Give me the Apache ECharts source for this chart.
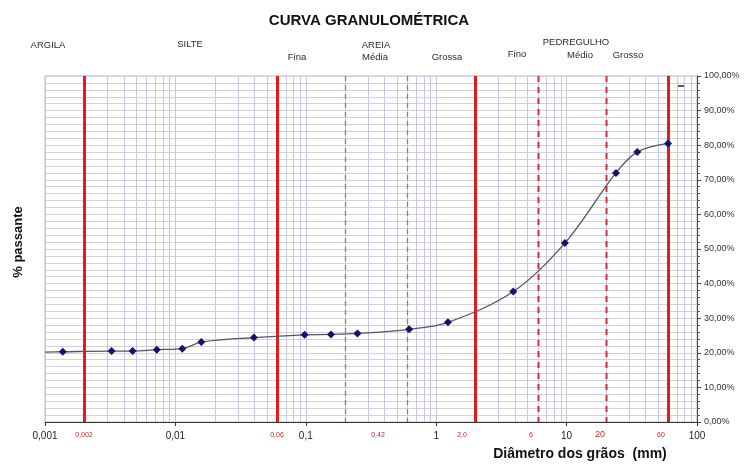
<!DOCTYPE html>
<html>
<head>
<meta charset="utf-8">
<script src="https://cdn.jsdelivr.net/npm/echarts@6/dist/echarts.min.js"></script>
<style>
  html, body { margin: 0; padding: 0; background: #ffffff; }
  #chart { width: 745px; height: 466px; }
</style>
</head>
<body>
<div id="chart"></div>
<script>
// Grain-size distribution: sieve / sedimentation diameters (mm) and % passing
const diameters = [0.001, 0.00137, 0.00324, 0.0047, 0.0072, 0.0113, 0.0158, 0.040, 0.098, 0.156, 0.249, 0.62, 1.23, 3.9, 9.7, 23.9, 34.8, 60];
const passing   = [20.2, 20.3, 20.5, 20.5, 20.9, 21.2, 23.1, 24.4, 25.2, 25.3, 25.6, 26.8, 28.8, 37.7, 51.7, 72.0, 78.0, 80.5];

// Soil class boundaries (mm): clay/silt, silt/sand, sand/gravel, gravel/cobbles
const mainLimits = [0.002, 0.06, 2.0, 60];
// Sub-class boundaries inside sand and gravel (mm)
const sandLimits = [0.2, 0.6];
const gravelLimits = [6, 20];

// Boundary captions under the axis
const limitCaptions = ['0,002', '0,06', '0,42', '2,0', '6', '20', '60'];

// Y axis tick values (%)
const yTicks = [0, 10, 20, 30, 40, 50, 60, 70, 80, 90, 100];

// Intermediate log-grid lines (2..9 per decade)
const minorGrid = [];
for (let e = -3; e <= 1; e++) {
  for (let k = 2; k <= 9; k++) minorGrid.push(+(k * Math.pow(10, e)).toPrecision(3));
}

const points = diameters.map((d, i) => {
  const item = { value: [d, passing[i]] };
  if (i === 0) item.symbolSize = 0;   // curve starts at the axis edge
  return item;
});

const fmtNum = v => String(+(+v).toPrecision(3)).replace('.', ',');

const chart = echarts.init(document.getElementById('chart'), null, { renderer: 'canvas' });

const labelFont = '"Liberation Sans", Arial, sans-serif';
const zoneText = (x, y, t) => ({
  type: 'text', x, y,
  style: { text: t, font: '9.5px ' + labelFont, fill: '#2a2a2a', textAlign: 'center', textVerticalAlign: 'middle' }
});

// vertical full-height rule at a given diameter, drawn through the axes
const ruleSeries = (values, style, z) => ({
  type: 'custom', silent: true, z,
  data: values.map(v => [v]),
  encode: { x: 0 },
  clip: true,
  renderItem: (params, api) => {
    const v = api.value(0);
    const top = api.coord([v, yTicks[yTicks.length - 1]]);
    const bot = api.coord([v, yTicks[0]]);
    return {
      type: 'line',
      shape: { x1: Math.round(top[0]) + 0.5, y1: top[1], x2: Math.round(bot[0]) + 0.5, y2: bot[1] },
      style: style
    };
  }
});

chart.setOption({
  animation: false,
  backgroundColor: '#ffffff',
  grid: { left: 45, right: 48, top: 76, bottom: 44, show: true, borderColor: '#b8b8b8', borderWidth: 1 },
  xAxis: {
    type: 'log', logBase: 10, min: 0.001, max: 100,
    axisLine: { show: true, onZero: false, lineStyle: { color: '#333', width: 1 } },
    axisTick: { show: true, length: 4, lineStyle: { color: '#333' } },
    axisLabel: { formatter: fmtNum, fontSize: 10, color: '#222', margin: 9, fontFamily: labelFont },
    splitLine: { show: true, lineStyle: { color: '#c6c6ea', width: 1 } }
  },
  yAxis: {
    type: 'value', min: yTicks[0], max: yTicks[yTicks.length - 1], interval: 10,
    position: 'right',
    axisLine: { show: true, lineStyle: { color: '#444', width: 1 } },
    axisTick: { show: true, length: 4, lineStyle: { color: '#444' } },
    minorTick: { show: true, splitNumber: 5, length: 3, lineStyle: { color: '#555' } },
    axisLabel: {
      formatter: v => v.toFixed(2).replace('.', ',') + '%',
      fontSize: 9, color: '#333', margin: 7, fontFamily: labelFont
    },
    splitLine: { show: true, lineStyle: { color: '#d2d2da', width: 1 } },
    minorSplitLine: { show: true, lineStyle: { color: '#d2d2da', width: 1 } }
  },
  series: [
    ruleSeries(minorGrid, { stroke: '#c6c6ea', lineWidth: 1 }, 1),
    ruleSeries(sandLimits, { stroke: '#c8607a', lineWidth: 1.3, lineDash: [5, 4] }, 2),
    ruleSeries(gravelLimits, { stroke: '#e02828', lineWidth: 2, lineDash: [6, 5] }, 2),
    ruleSeries(mainLimits, { stroke: '#e31b1b', lineWidth: 3 }, 3),
    {
      name: '% passante',
      type: 'line', z: 5,
      data: points,
      smooth: 0.35,
      symbol: 'diamond', symbolSize: 8,
      itemStyle: { color: '#12126e' },
      lineStyle: { color: '#55556a', width: 1.3 }
    }
  ]
});

// Captions and headings
const g = [
  {
    type: 'text', x: 369, y: 21,
    style: { text: 'CURVA GRANULOMÉTRICA', font: 'bold 15px ' + labelFont, fill: '#111', textAlign: 'center', textVerticalAlign: 'middle' }
  },
  zoneText(48, 45, 'ARGILA'),
  zoneText(190, 44, 'SILTE'),
  zoneText(376, 45, 'AREIA'),
  zoneText(297, 57, 'Fina'),
  zoneText(375, 57, 'Média'),
  zoneText(447, 57, 'Grossa'),
  zoneText(576, 42, 'PEDREGULHO'),
  zoneText(517, 54, 'Fino'),
  zoneText(580, 55, 'Médio'),
  zoneText(628, 55, 'Grosso'),
  {
    type: 'text', x: 18, y: 242, rotation: Math.PI / 2,
    style: { text: '% passante', font: 'bold 13px ' + labelFont, fill: '#111', textAlign: 'center', textVerticalAlign: 'middle' }
  },
  {
    type: 'text', x: 580, y: 454,
    style: { text: 'Diâmetro dos grãos  (mm)', font: 'bold 14px ' + labelFont, fill: '#111', textAlign: 'center', textVerticalAlign: 'middle' }
  },
  {
    type: 'line', shape: { x1: 677, y1: 86, x2: 684, y2: 86 },
    style: { stroke: '#222', lineWidth: 1.5 }
  }
];

// Boundary captions, drawn in red just under the axis
const captionX = [84, 277, 378, 462, 531, 600, 661];
const captionSize = [7, 7, 7, 7, 7, 9, 7];
limitCaptions.forEach((t, i) => {
  g.push({
    type: 'text', x: captionX[i], y: 435,
    style: { text: t, font: captionSize[i] + 'px ' + labelFont, fill: '#c62828', textAlign: 'center', textVerticalAlign: 'middle' }
  });
});

chart.setOption({ graphic: g });
</script>
</body>
</html>
